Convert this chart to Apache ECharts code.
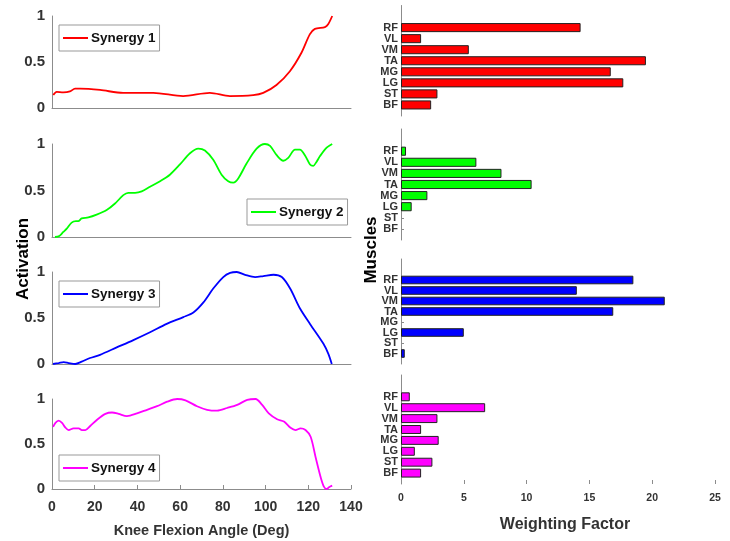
<!DOCTYPE html>
<html>
<head>
<meta charset="utf-8">
<title>Synergies</title>
<script src="https://cdn.jsdelivr.net/npm/echarts@6/dist/echarts.min.js"></script>
<style>
  html, body { margin: 0; padding: 0; background: #fff; }
  #main { width: 730px; height: 541px; }
</style>
</head>
<body>
<div id="main"></div>
<script>
// activation curves, [angle, activation]
const synergy1 = [[0.6, 0.14], [2.2, 0.175], [5.3, 0.17], [8.4, 0.18], [10.8, 0.21], [13.1, 0.21], [22.5, 0.196], [33.3, 0.164], [47.4, 0.164], [61.4, 0.13], [73.9, 0.164], [83.3, 0.13], [94.2, 0.14], [98.9, 0.164], [105.1, 0.25], [111.4, 0.4], [116.8, 0.6], [120.7, 0.8], [123.1, 0.86], [127.8, 0.88], [129.3, 0.91], [131.2, 1.0]]
const synergy2 = [[1.4, 0], [3.4, 0.01], [5.3, 0.054], [6.9, 0.09], [9.2, 0.155], [11.2, 0.17], [12.3, 0.17], [13.9, 0.2], [17.0, 0.21], [20.9, 0.24], [25.6, 0.29], [29.5, 0.36], [33.4, 0.45], [35.7, 0.475], [38.9, 0.475], [42.0, 0.49], [45.9, 0.54], [50.6, 0.6], [55.2, 0.67], [59.9, 0.78], [64.6, 0.9], [68.5, 0.95], [71.6, 0.93], [75.5, 0.83], [79.4, 0.67], [82.5, 0.6], [84.9, 0.585], [87.2, 0.63], [91.1, 0.79], [95.8, 0.95], [99.7, 1.0], [102.1, 0.98], [105.2, 0.88], [108.3, 0.82], [110.6, 0.85], [113.8, 0.94], [116.1, 0.94], [118.4, 0.88], [120.8, 0.78], [122.3, 0.765], [123.9, 0.81], [125.5, 0.87], [128.6, 0.96], [131.2, 1.0]]
const synergy3 = [[0.5, 0], [3.1, 0.01], [5.5, 0.02], [7.8, 0.01], [10.9, 0], [13.9, 0.025], [17.8, 0.065], [22.5, 0.1], [30.3, 0.18], [38.1, 0.26], [45.9, 0.345], [53.7, 0.436], [61.5, 0.51], [66.2, 0.56], [70.9, 0.67], [75.5, 0.82], [80.2, 0.945], [83.4, 0.99], [86.5, 1.0], [90.4, 0.97], [95.1, 0.945], [99.0, 0.956], [103.7, 0.97], [107.6, 0.945], [111.5, 0.82], [116.2, 0.6], [120.8, 0.436], [127.1, 0.22], [129.4, 0.11], [131.0, 0]]
const synergy4 = [[0.5, 0.69], [1.6, 0.735], [3.1, 0.76], [4.7, 0.735], [6.2, 0.685], [7.8, 0.655], [10.1, 0.674], [12.5, 0.674], [14.0, 0.655], [15.6, 0.655], [17.9, 0.7], [21.1, 0.77], [25.0, 0.835], [28.1, 0.85], [31.2, 0.835], [35.1, 0.81], [39.8, 0.84], [44.5, 0.88], [49.2, 0.92], [53.9, 0.97], [58.6, 1.0], [62.5, 0.985], [67.9, 0.92], [72.6, 0.88], [77.3, 0.87], [82.0, 0.9], [86.7, 0.935], [91.4, 0.99], [95.3, 1.0], [98.4, 0.935], [101.5, 0.84], [105.4, 0.775], [108.6, 0.75], [111.7, 0.68], [114.0, 0.655], [116.4, 0.674], [118.7, 0.655], [121.1, 0.58], [123.4, 0.356], [125.8, 0.13], [127.3, 0.026], [128.6, 0], [129.7, 0.02], [131.2, 0.037]]

// weighting factors, top to bottom
const muscles = ['RF', 'VL', 'VM', 'TA', 'MG', 'LG', 'ST', 'BF']
const weights1 = [14.3, 1.6, 5.4, 19.5, 16.7, 17.7, 2.9, 2.4]
const weights2 = [0.4, 6.0, 8.0, 10.4, 2.1, 0.85, 0, 0]
const weights3 = [18.5, 14.0, 21.0, 16.9, 0, 5.0, 0, 0.3]
const weights4 = [0.7, 6.7, 2.9, 1.6, 3.0, 1.1, 2.5, 1.6]

const names = ['Synergy 1', 'Synergy 2', 'Synergy 3', 'Synergy 4']
const colors = ['#ff0000', '#00ff00', '#0000ff', '#ff00ff']
const curves = [synergy1, synergy2, synergy3, synergy4]
const weights = [weights1, weights2, weights3, weights4]

const font = "'Liberation Sans', Arial, sans-serif"
const axisGray = '#8c8c8c'

// panel boxes (px)
const leftGrids = [
  { top: 16, height: 92 },
  { top: 144, height: 93 },
  { top: 272, height: 92 },
  { top: 399, height: 90 }
]
const rightGrids = [
  { top: -5, height: 121 },
  { top: 129, height: 111 },
  { top: 259, height: 105 },
  { top: 375, height: 109 }
]
const legendPos = [
  { left: 59, top: 25 },
  { left: 247, top: 199 },
  { left: 59, top: 281 },
  { left: 59, top: 455 }
]

// bottom-to-top categories padded so the axis runs 0..10
const cats = [''].concat(muscles.slice().reverse(), [' ', '  '])

const grid = []
const xAxis = []
const yAxis = []
const series = []
const legend = []

for (let i = 0; i < 4; i++) {
  const last = i === 3
  grid.push({ left: 52, width: 299, top: leftGrids[i].top, height: leftGrids[i].height })
  xAxis.push({
    gridIndex: i,
    type: 'value',
    min: 0,
    max: 140,
    interval: 20,
    splitLine: { show: false },
    axisLine: { lineStyle: { color: axisGray } },
    axisTick: { show: last, inside: true, length: 4, lineStyle: { color: axisGray } },
    axisLabel: { show: last, margin: 11, color: '#333', fontWeight: 'bold', fontSize: 14, fontFamily: font },
    name: last ? 'Knee Flexion Angle (Deg)' : '',
    nameLocation: 'middle',
    nameGap: 34,
    nameTextStyle: { color: '#333', fontWeight: 'bold', fontSize: 14.5, fontFamily: font }
  })
  yAxis.push({
    gridIndex: i,
    type: 'value',
    min: 0,
    max: 1,
    interval: 0.5,
    splitLine: { show: false },
    axisLine: { show: true, lineStyle: { color: axisGray } },
    axisTick: { show: false },
    axisLabel: { margin: 7, color: '#333', fontWeight: 'bold', fontSize: 15, fontFamily: font }
  })
  series.push({
    name: names[i],
    type: 'line',
    xAxisIndex: i,
    yAxisIndex: i,
    data: curves[i],
    symbol: 'none',
    smooth: 0.3,
    lineStyle: { color: colors[i], width: 1.8 },
    itemStyle: { color: colors[i] }
  })
  legend.push({
    data: [names[i]],
    icon: 'rect',
    left: legendPos[i].left,
    top: legendPos[i].top,
    orient: 'vertical',
    itemWidth: 25,
    itemHeight: 2,
    itemGap: 0,
    padding: [6, 4, 6, 4],
    borderColor: '#999',
    borderWidth: 1,
    backgroundColor: '#fff',
    selectedMode: false,
    textStyle: { color: '#111', fontWeight: 'bold', fontSize: 13.5, fontFamily: font, padding: [0, 0, 0, -2] }
  })
}

for (let i = 0; i < 4; i++) {
  const last = i === 3
  const gi = i + 4
  grid.push({ left: 401, width: 314, top: rightGrids[i].top, height: rightGrids[i].height })
  xAxis.push({
    gridIndex: gi,
    type: 'value',
    min: 0,
    max: 25,
    interval: 5,
    splitLine: { show: false },
    axisLine: { lineStyle: { color: axisGray } },
    axisTick: { show: last, inside: true, length: 4, lineStyle: { color: axisGray } },
    axisLabel: { show: last, margin: 9, color: '#333', fontWeight: 'bold', fontSize: 10.5, fontFamily: font },
    name: last ? 'Weighting Factor' : '',
    nameLocation: 'middle',
    nameGap: 33,
    nameTextStyle: { color: '#333', fontWeight: 'bold', fontSize: 16, fontFamily: font, padding: [0, 0, 0, 14] }
  })
  yAxis.push({
    gridIndex: gi,
    type: 'category',
    data: cats,
    boundaryGap: false,
    splitLine: { show: false },
    axisLine: { show: true, lineStyle: { color: axisGray } },
    axisTick: {
      show: true,
      inside: true,
      length: 3,
      interval: function (idx, val) { return val.trim() !== '' },
      lineStyle: { color: axisGray }
    },
    axisLabel: { interval: 0, margin: 3, color: '#333', fontWeight: 'bold', fontSize: 11, fontFamily: font, lineHeight: 11 }
  })
  const vals = weights[i].slice().reverse().map(v => (v === 0 ? null : v))
  series.push({
    type: 'bar',
    xAxisIndex: gi,
    yAxisIndex: gi,
    data: [null].concat(vals, [null, null]),
    barWidth: '82%',
    itemStyle: { color: colors[i], borderColor: '#222', borderWidth: 1 }
  })
}

const myChart = echarts.init(document.getElementById('main'))
const option = {
  animation: false,
  grid: grid,
  xAxis: xAxis,
  yAxis: yAxis,
  legend: legend,
  series: series,
  graphic: [
    {
      type: 'text',
      x: 23,
      y: 259,
      rotation: Math.PI / 2,
      style: { text: 'Activation', fill: '#000', font: 'bold 17px ' + font, align: 'center', verticalAlign: 'middle' }
    },
    {
      type: 'text',
      x: 371,
      y: 250,
      rotation: Math.PI / 2,
      style: { text: 'Muscles', fill: '#000', font: 'bold 17px ' + font, align: 'center', verticalAlign: 'middle' }
    }
  ]
}
option && myChart.setOption(option)
</script>
</body>
</html>
